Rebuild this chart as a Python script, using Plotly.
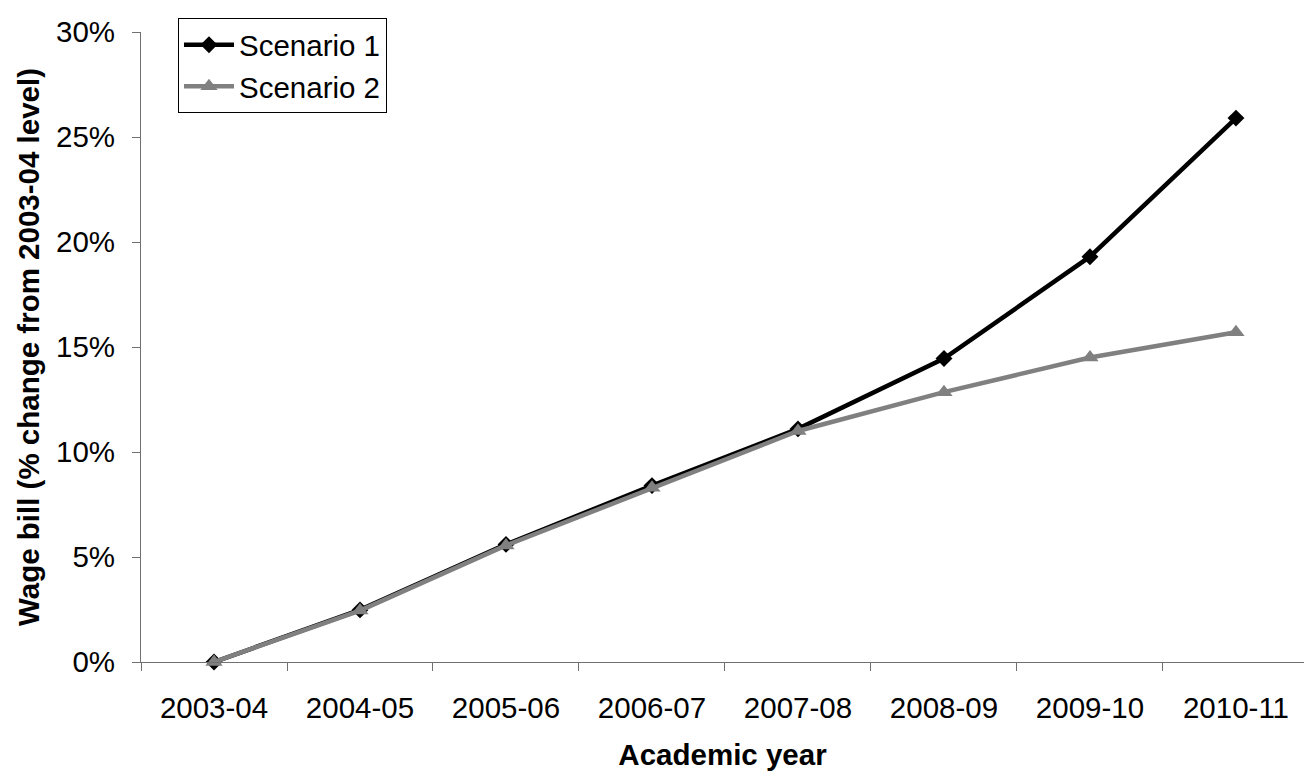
import plotly.graph_objects as go

# Academic years and wage bill change (% over 2003-04 level)
years = ["2003-04", "2004-05", "2005-06", "2006-07", "2007-08", "2008-09", "2009-10", "2010-11"]
scenario_1 = [0.0, 2.48, 5.6, 8.4, 11.1, 14.45, 19.3, 25.9]
scenario_2 = [0.0, 2.45, 5.55, 8.3, 11.0, 12.85, 14.5, 15.7]
y_ticks = [0, 5, 10, 15, 20, 25, 30]
y_tick_text = ["0%", "5%", "10%", "15%", "20%", "25%", "30%"]

FONT = "Liberation Sans, Arial, sans-serif"
FS = 29.5
AXIS_GREY = "#707070"

fig = go.Figure()
fig.add_trace(go.Scatter(
    x=years, y=scenario_1, name="Scenario 1", mode="lines+markers",
    line=dict(color="#000000", width=4.5),
    marker=dict(symbol="diamond", size=13, color="#000000"),
    cliponaxis=False,
))
fig.add_trace(go.Scatter(
    x=years, y=scenario_2, name="Scenario 2", mode="lines+markers",
    line=dict(color="#808080", width=4.5),
    marker=dict(symbol="triangle-up", size=15, color="#808080"),
    cliponaxis=False,
))

fig.update_layout(
    width=1304, height=771,
    margin=dict(l=141, r=0, t=32, b=109),
    paper_bgcolor="white", plot_bgcolor="white",
    font=dict(family=FONT, size=FS, color="#000000"),
    legend=dict(
        x=0.0318, y=1.022, xanchor="left", yanchor="top",
        bordercolor="#000000", borderwidth=1, bgcolor="white",
        font=dict(size=FS), tracegroupgap=0, itemwidth=50,
    ),
    xaxis=dict(
        type="category", range=[-0.5, 7.466],
        showline=True, linecolor=AXIS_GREY, linewidth=1,
        ticks="outside", ticklen=8, tickcolor=AXIS_GREY, tickson="boundaries",
        showgrid=False, zeroline=False,
        tickfont=dict(size=FS), ticklabelstandoff=20,
        title=dict(text="<b>Academic year</b>", font=dict(size=FS), standoff=24),
    ),
    yaxis=dict(
        range=[0, 30], tickvals=y_ticks, ticktext=y_tick_text,
        showline=True, linecolor=AXIS_GREY, linewidth=1,
        ticks="outside", ticklen=8, tickcolor=AXIS_GREY,
        showgrid=False, zeroline=False,
        tickfont=dict(size=FS), ticklabelstandoff=11,
        title=dict(text="<b>Wage bill (% change from 2003-04 level)</b>", font=dict(size=FS), standoff=7),
    ),
)

fig.write_html("out.html")
